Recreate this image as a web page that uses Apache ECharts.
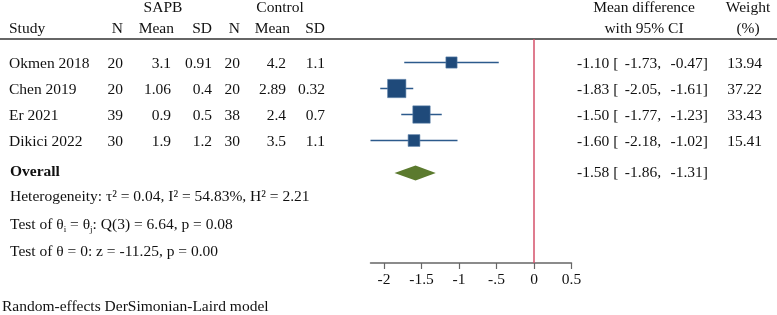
<!DOCTYPE html>
<html><head><meta charset="utf-8">
<script src="https://cdn.jsdelivr.net/npm/echarts@6/dist/echarts.min.js"></script>
<style>html,body{margin:0;padding:0;background:#fff}#chart{width:777px;height:315px}</style>
</head><body><div id="chart"></div>
<script>
var studies = ['Okmen 2018', 'Chen 2019', 'Er 2021', 'Dikici 2022'];
var sapbN = ['20', '20', '39', '30'];
var sapbMean = ['3.1', '1.06', '0.9', '1.9'];
var sapbSD = ['0.91', '0.4', '0.5', '1.2'];
var ctrlN = ['20', '20', '38', '30'];
var ctrlMean = ['4.2', '2.89', '2.4', '3.5'];
var ctrlSD = ['1.1', '0.32', '0.7', '1.1'];
var md = [-1.10, -1.83, -1.50, -1.60];
var lo = [-1.73, -2.05, -1.77, -2.18];
var hi = [-0.47, -1.61, -1.23, -1.02];
var weight = [13.94, 37.22, 33.43, 15.41];
var overallMD = -1.58, overallLo = -1.86, overallHi = -1.31;
var xTicks = [-2, -1.5, -1, -0.5, 0, 0.5];

var FAMILY = '"Liberation Serif", "Times New Roman", serif';
var FONT = '15.5px ' + FAMILY;
var BOLD = 'bold 15.5px ' + FAMILY;
var INK = '#111';

function txt(x, y, s, align, font) {
  return { type: 'text', x: x, y: y, style: { text: s, align: align || 'left', verticalAlign: 'middle', font: font || FONT, fill: INK } };
}
function fmt(v) { return v.toFixed(2); }
function ciText(y, m, l, h) {
  return [
    txt(577, y, fmt(m) + ' [', 'left'),
    txt(661, y, fmt(l) + ',', 'right'),
    txt(708, y, fmt(h) + ']', 'right')
  ];
}

var Chart = echarts.init(document.getElementById('chart'));
var option = {
  animation: false,
  grid: { left: 370.5, width: 201, top: 39, bottom: 52 },
  xAxis: {
    type: 'value', min: -2.18, max: 0.5,
    splitLine: { show: false },
    axisLine: { lineStyle: { color: '#666', width: 1.5 } },
    axisTick: { length: 6, lineStyle: { color: '#666', width: 1.2 }, customValues: xTicks },
    axisLabel: {
      customValues: xTicks, margin: 9, color: INK, fontSize: 15.5, fontFamily: FAMILY,
      formatter: function (v) { return v === -0.5 ? '-.5' : String(v); }
    }
  },
  yAxis: { type: 'value', inverse: true, min: 0.096, max: 8.71, show: false },
  graphic: [
    { type: 'line', shape: { x1: 0, y1: 39, x2: 777, y2: 39 }, style: { stroke: '#333', lineWidth: 1.5 } },
    txt(163, 8, 'SAPB', 'center'),
    txt(280, 8, 'Control', 'center'),
    txt(9, 29, 'Study'),
    txt(123, 29, 'N', 'right'),
    txt(174, 29, 'Mean', 'right'),
    txt(212, 29, 'SD', 'right'),
    txt(240, 29, 'N', 'right'),
    txt(290, 29, 'Mean', 'right'),
    txt(325, 29, 'SD', 'right'),
    txt(644, 8, 'Mean difference', 'center'),
    txt(644, 29, 'with 95% CI', 'center'),
    txt(748, 8, 'Weight', 'center'),
    txt(748, 29, '(%)', 'center'),
    txt(10, 197, 'Heterogeneity: τ² = 0.04, I² = 54.83%, H² = 2.21'),
    {
      type: 'text', x: 10, y: 225,
      style: {
        text: 'Test of θ{s|i} = θ{s|j}: Q(3) = 6.64, p = 0.08', verticalAlign: 'middle', font: FONT, fill: INK,
        rich: { s: { fontSize: 9, fontFamily: FAMILY, fill: INK, padding: [9, 0, 0, 0], verticalAlign: 'bottom' } }
      }
    },
    txt(10, 252, 'Test of θ = 0: z = -11.25, p = 0.00'),
    txt(2, 307, 'Random-effects DerSimonian-Laird model')
  ],
  series: [
    {
      type: 'custom', clip: false,
      data: studies.map(function (s, i) { return [md[i], i + 1, lo[i], hi[i], weight[i]]; }),
      encode: { x: 0, y: 1 },
      renderItem: function (params, api) {
        var row = api.value(1);
        var p0 = api.coord([api.value(2), row]);
        var p1 = api.coord([api.value(3), row]);
        var c = api.coord([api.value(0), row]);
        var s = 3 * Math.sqrt(api.value(4));
        return { type: 'group', children: [
          { type: 'line', shape: { x1: p0[0], y1: p0[1], x2: p1[0], y2: p1[1] }, style: { stroke: '#2c5a8c', lineWidth: 1.4 } },
          { type: 'rect', shape: { x: c[0] - s / 2, y: c[1] - s / 2, width: s, height: s }, style: { fill: '#1f4a7a', stroke: '#5a7fa8', lineWidth: 0.6 } }
        ] };
      },
      markLine: {
        symbol: 'none', silent: true, label: { show: false },
        lineStyle: { color: '#d4506a', width: 1.5, type: 'solid' },
        data: [{ xAxis: 0 }]
      },
      z: 3
    },
    {
      type: 'custom', clip: false,
      data: studies.map(function (s, i) { return [0, i + 1]; }),
      encode: { x: 0, y: 1 },
      renderItem: function (params, api) {
        var i = params.dataIndex;
        var y = api.coord([0, api.value(1)])[1] + 1;
        return { type: 'group', children: [
          txt(9, y, studies[i]),
          txt(123, y, sapbN[i], 'right'),
          txt(171, y, sapbMean[i], 'right'),
          txt(212, y, sapbSD[i], 'right'),
          txt(240, y, ctrlN[i], 'right'),
          txt(286, y, ctrlMean[i], 'right'),
          txt(325, y, ctrlSD[i], 'right'),
          txt(762, y, weight[i].toFixed(2), 'right')
        ].concat(ciText(y, md[i], lo[i], hi[i])) };
      }
    },
    {
      type: 'custom', clip: false,
      data: [[overallMD, 5.25, overallLo, overallHi]],
      encode: { x: 0, y: 1 },
      renderItem: function (params, api) {
        var row = api.value(1);
        var c = api.coord([api.value(0), row]);
        var l = api.coord([api.value(2), row]);
        var r = api.coord([api.value(3), row]);
        var h = 7.5;
        return { type: 'group', children: [
          { type: 'polygon', shape: { points: [[l[0], c[1]], [c[0], c[1] - h], [r[0], c[1]], [c[0], c[1] + h]] }, style: { fill: '#5b7a2e' } },
          txt(10, c[1] - 1, 'Overall', 'left', BOLD)
        ].concat(ciText(c[1], api.value(0), api.value(2), api.value(3))) };
      },
      z: 4
    }
  ]
};
Chart.setOption(option);
</script>
</body></html>
